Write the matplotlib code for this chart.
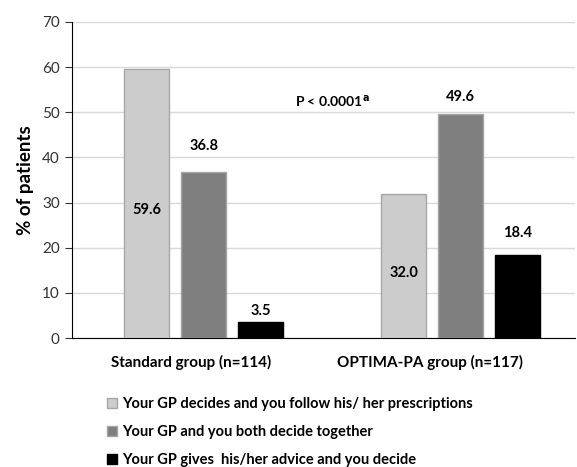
# Grouped bar chart: who makes the decision, by study group

import matplotlib.pyplot as plt
import numpy as np

# --------------------------------------------------------------------
# Data
# --------------------------------------------------------------------

groups = ["Standard group (n=114)", "OPTIMA-PA group (n=117)"]
series_names = [
    "Your GP decides and you follow his/ her prescriptions",
    "Your GP and you both decide together",
    "Your GP gives  his/her advice and you decide",
]
decides = [59.6, 32.0]
together = [36.8, 49.6]
advice = [3.5, 18.4]
y_ticks = [0, 10, 20, 30, 40, 50, 60, 70]

colors = ["#cccccc", "#7f7f7f", "#000000"]
edges = ["#a6a6a6", "#a6a6a6", "#000000"]

# label placement (points above bar top / fraction of bar height)
inside_frac = [0.476, 0.45]
above_pts = [[19, 12.5], [8, 15.5]]

plt.rcParams["font.family"] = ["Lato", "DejaVu Sans"]

fig = plt.figure(figsize=(5.77, 4.67), dpi=100)
ax = fig.add_axes([0.125, 0.276, 0.872, 0.677])

x = np.arange(len(groups))
width = 0.175
offsets = [-0.222, 0.0, 0.222]
all_series = [decides, together, advice]

for vals, off, c, ec, name in zip(all_series, offsets, colors, edges, series_names):
    ax.bar(x + off, vals, width, color=c, edgecolor=ec, linewidth=1,
           label=name, zorder=3)

# first series labelled inside the bars, the others above
for i, v in enumerate(decides):
    ax.text(x[i] + offsets[0], v * inside_frac[i], f"{v:.1f}",
            ha="center", va="center", fontsize=10.5, fontweight="bold")
for vals, off, pts in zip(all_series[1:], offsets[1:], above_pts):
    for i, v in enumerate(vals):
        ax.annotate(f"{v:.1f}", (x[i] + off, v), xytext=(0, pts[i]),
                    textcoords="offset points", ha="center", va="center",
                    fontsize=10.5, fontweight="bold")

ax.text(0.5, 52.5, r"P < 0.0001$^{\mathbf{a}}$", ha="center", va="center",
        fontsize=10, fontweight="bold")

ax.set_xlim(-0.512, 1.446)
ax.set_ylim(0, 70)
ax.set_yticks(y_ticks)
ax.set_xticks(x + np.array([-0.05, -0.12]))
ax.set_xticklabels(groups, fontsize=11, fontweight="bold")
ax.tick_params(axis="x", length=0, pad=12)
ax.tick_params(axis="y", labelsize=11, colors="#333333", length=5, pad=4)
ax.set_ylabel("% of patients", fontsize=13.5, fontweight="bold", labelpad=6)

ax.grid(axis="y", color="#d9d9d9", linewidth=1, zorder=0)
ax.spines["top"].set_visible(False)
ax.spines["right"].set_visible(False)

ax.legend(loc="upper left", bbox_to_anchor=(0.044, -0.145), frameon=False,
          prop={"size": 10.5, "weight": "bold"}, handlelength=0.65,
          handleheight=0.65, handletextpad=0.35, labelspacing=0.95)

fig.savefig("out.png", dpi=100)
